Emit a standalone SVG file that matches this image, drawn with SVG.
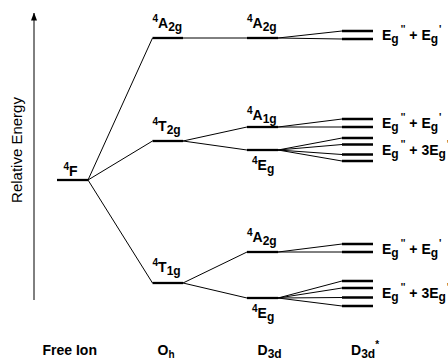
<svg xmlns="http://www.w3.org/2000/svg" width="448" height="362" viewBox="0 0 448 362">
<defs>
<style>
.bg{fill:#fff}
.lvl{stroke:#000;stroke-width:2.3;fill:none}
.con{stroke:#000;stroke-width:1;fill:none}
.lb{font-family:"Liberation Sans",Arial,sans-serif;font-weight:bold;font-size:14px;fill:#000}
.sp{font-size:10px}
.sb{font-size:12px}
.ax{font-family:"Liberation Sans",Arial,sans-serif;font-size:15px;fill:#000}
</style>
<marker id="ah" markerWidth="8" markerHeight="6" refX="7.5" refY="3" orient="auto" markerUnits="userSpaceOnUse">
<path d="M0,0 L8,3 L0,6 Z" fill="#000"/>
</marker>
</defs>
<rect class="bg" x="0" y="0" width="448" height="362"/>

<g id="axis">
<line x1="34" y1="300" x2="34" y2="13" stroke="#000" stroke-width="1" marker-end="url(#ah)"/>
<text class="ax" transform="translate(21.5,150) rotate(-90)" text-anchor="middle">Relative Energy</text>
</g>

<g id="connectors">
<path class="con" d="M88,180 L152.5,38 M88,180 L152.5,141 M88,180 L152.5,283"/>
<path class="con" d="M183,38 L247,38 M183,141 L247,127 M183,141 L247,150 M183,283 L247,252 M183,283 L247,298"/>
<path class="con" d="M278,38 L342,31 M278,38 L342,39"/>
<path class="con" d="M278,127 L342,119 M278,127 L342,127"/>
<path class="con" d="M278,150 L342,138 M278,150 L342,144.5 M278,150 L342,154.5 M278,150 L342,161"/>
<path class="con" d="M278,252 L342,244 M278,252 L342,252"/>
<path class="con" d="M278,298 L342,281 M278,298 L342,288 M278,298 L342,297.5 M278,298 L342,306"/>
</g>

<g id="freeion">
<line class="lvl" x1="57" y1="180" x2="88" y2="180"/>
<text class="lb" x="63.5" y="175.5"><tspan class="sp" dy="-6">4</tspan><tspan dy="6">F</tspan></text>
</g>

<g id="oh-A2g">
<line class="lvl" x1="152.5" y1="38" x2="183" y2="38"/>
<text class="lb" x="152.5" y="28"><tspan class="sp" dy="-6">4</tspan><tspan dy="6">A</tspan><tspan class="sb" dy="3">2g</tspan></text>
</g>
<g id="oh-T2g">
<line class="lvl" x1="152.5" y1="141" x2="183" y2="141"/>
<text class="lb" x="152.5" y="130.5"><tspan class="sp" dy="-6">4</tspan><tspan dy="6">T</tspan><tspan class="sb" dy="3">2g</tspan></text>
</g>
<g id="oh-T1g">
<line class="lvl" x1="152.5" y1="283" x2="183" y2="283"/>
<text class="lb" x="152.5" y="272"><tspan class="sp" dy="-6">4</tspan><tspan dy="6">T</tspan><tspan class="sb" dy="3">1g</tspan></text>
</g>

<g id="d3d-A2g-top">
<line class="lvl" x1="247" y1="38" x2="278" y2="38"/>
<text class="lb" x="247" y="28"><tspan class="sp" dy="-6">4</tspan><tspan dy="6">A</tspan><tspan class="sb" dy="3">2g</tspan></text>
</g>
<g id="d3d-A1g">
<line class="lvl" x1="247" y1="127" x2="278" y2="127"/>
<text class="lb" x="247" y="120"><tspan class="sp" dy="-6">4</tspan><tspan dy="6">A</tspan><tspan class="sb" dy="3">1g</tspan></text>
</g>
<g id="d3d-Eg-upper">
<line class="lvl" x1="247" y1="150" x2="278" y2="150"/>
<text class="lb" x="252" y="170"><tspan class="sp" dy="-6">4</tspan><tspan dy="6">E</tspan><tspan class="sb" dy="3">g</tspan></text>
</g>
<g id="d3d-A2g-lower">
<line class="lvl" x1="247" y1="252" x2="278" y2="252"/>
<text class="lb" x="247" y="242"><tspan class="sp" dy="-6">4</tspan><tspan dy="6">A</tspan><tspan class="sb" dy="3">2g</tspan></text>
</g>
<g id="d3d-Eg-lower">
<line class="lvl" x1="247" y1="298" x2="278" y2="298"/>
<text class="lb" x="252" y="318"><tspan class="sp" dy="-6">4</tspan><tspan dy="6">E</tspan><tspan class="sb" dy="3">g</tspan></text>
</g>

<g id="d3ds-1">
<path class="lvl" d="M342,31 H373 M342,39 H373"/>
<text class="lb" x="382" y="40">E<tspan class="sb" dy="3">g</tspan><tspan class="sp" dx="2" dy="-10">''</tspan><tspan dy="7"> + E</tspan><tspan class="sb" dy="3">g</tspan><tspan class="sp" dx="1" dy="-10">'</tspan></text>
</g>
<g id="d3ds-2">
<path class="lvl" d="M342,119 H373 M342,127 H373"/>
<text class="lb" x="382" y="127.5">E<tspan class="sb" dy="3">g</tspan><tspan class="sp" dx="2" dy="-10">''</tspan><tspan dy="7"> + E</tspan><tspan class="sb" dy="3">g</tspan><tspan class="sp" dx="1" dy="-10">'</tspan></text>
</g>
<g id="d3ds-3">
<path class="lvl" d="M342,138 H373 M342,144.5 H373 M342,154.5 H373 M342,161 H373"/>
<text class="lb" x="382" y="154.5">E<tspan class="sb" dy="3">g</tspan><tspan class="sp" dx="2" dy="-10">''</tspan><tspan dy="7"> + 3E</tspan><tspan class="sb" dy="3">g</tspan><tspan class="sp" dx="1" dy="-10">'</tspan></text>
</g>
<g id="d3ds-4">
<path class="lvl" d="M342,244 H373 M342,252 H373"/>
<text class="lb" x="382" y="253.5">E<tspan class="sb" dy="3">g</tspan><tspan class="sp" dx="2" dy="-10">''</tspan><tspan dy="7"> + E</tspan><tspan class="sb" dy="3">g</tspan><tspan class="sp" dx="1" dy="-10">'</tspan></text>
</g>
<g id="d3ds-5">
<path class="lvl" d="M342,281 H373 M342,288 H373 M342,297.5 H373 M342,306 H373"/>
<text class="lb" x="382" y="297.5">E<tspan class="sb" dy="3">g</tspan><tspan class="sp" dx="2" dy="-10">''</tspan><tspan dy="7"> + 3E</tspan><tspan class="sb" dy="3">g</tspan><tspan class="sp" dx="1" dy="-10">'</tspan></text>
</g>

<g id="labels">
<text class="lb" x="42.5" y="355">Free Ion</text>
<text class="lb" x="157.5" y="355">O<tspan class="sp" dy="3">h</tspan></text>
<text class="lb" x="257.5" y="355">D<tspan class="sb" dy="3">3d</tspan></text>
<text class="lb" x="351" y="355">D<tspan class="sb" dy="3">3d</tspan><tspan class="sp" dy="-10">*</tspan></text>
</g>
</svg>
